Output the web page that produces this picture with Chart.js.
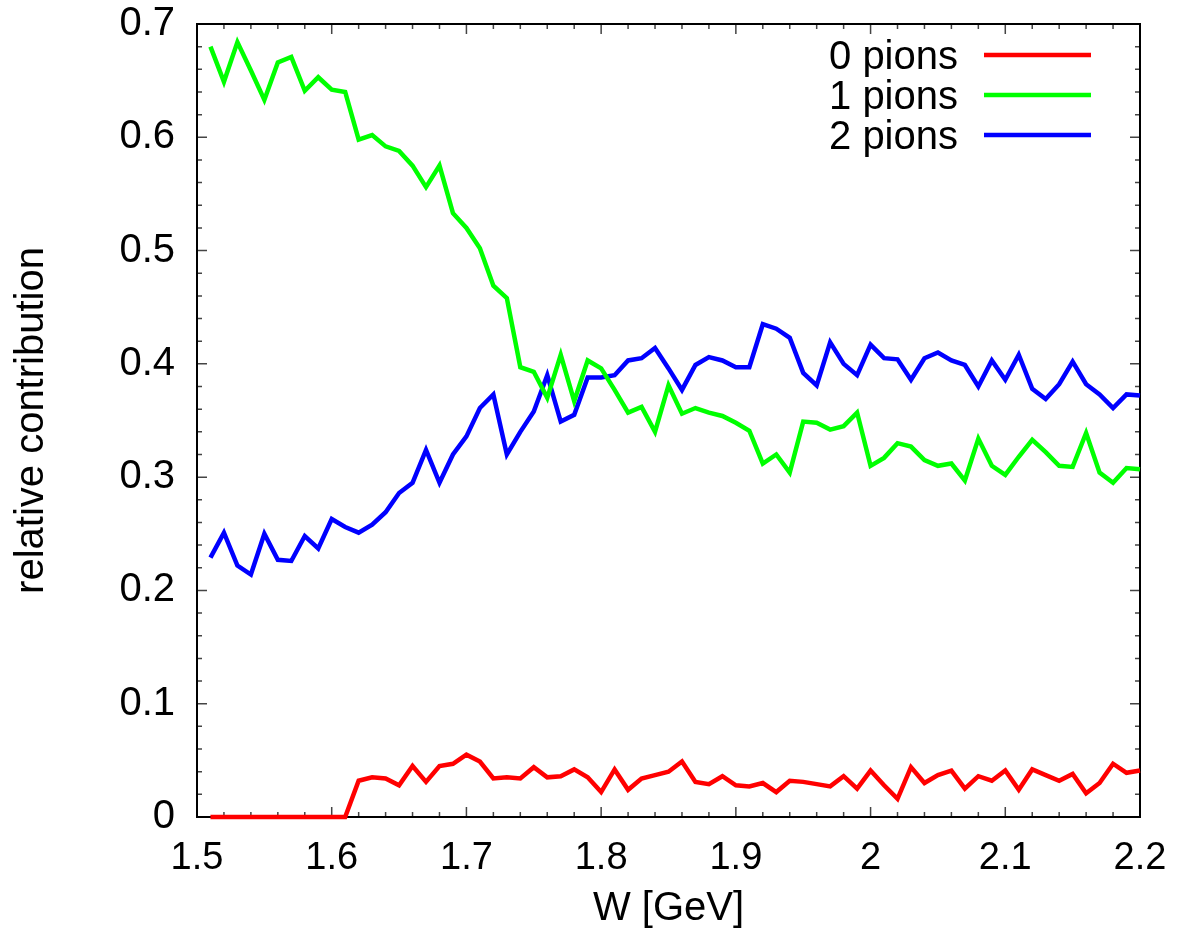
<!DOCTYPE html>
<html>
<head>
<meta charset="utf-8">
<title>relative contribution vs W</title>
<script src="https://cdn.jsdelivr.net/npm/chart.js@4.4.1/dist/chart.umd.min.js"></script>
<style>
  html, body { margin: 0; padding: 0; background: #fff; }
  #wrap { width: 1178px; height: 940px; }
</style>
</head>
<body>
<div id="wrap"><canvas id="pionChart" width="1178" height="940"></canvas></div>
<script>
// W values [GeV]
const wValues = [
  1.51, 1.52, 1.53, 1.54, 1.55, 1.56, 1.57, 1.58, 1.59, 1.60,
  1.61, 1.62, 1.63, 1.64, 1.65, 1.66, 1.67, 1.68, 1.69, 1.70,
  1.71, 1.72, 1.73, 1.74, 1.75, 1.76, 1.77, 1.78, 1.79, 1.80,
  1.81, 1.82, 1.83, 1.84, 1.85, 1.86, 1.87, 1.88, 1.89, 1.90,
  1.91, 1.92, 1.93, 1.94, 1.95, 1.96, 1.97, 1.98, 1.99, 2.00,
  2.01, 2.02, 2.03, 2.04, 2.05, 2.06, 2.07, 2.08, 2.09, 2.10,
  2.11, 2.12, 2.13, 2.14, 2.15, 2.16, 2.17, 2.18, 2.19, 2.20
];

const zeroPions = [
  0, 0, 0, 0, 0, 0, 0, 0, 0, 0,
  0, 0.032, 0.035, 0.034, 0.028, 0.045, 0.031, 0.045, 0.047, 0.055,
  0.049, 0.034, 0.035, 0.034, 0.044, 0.035, 0.036, 0.042, 0.035, 0.022,
  0.042, 0.024, 0.034, 0.037, 0.040, 0.049, 0.031, 0.029, 0.036, 0.028,
  0.027, 0.030, 0.022, 0.032, 0.031, 0.029, 0.027, 0.036, 0.025, 0.041,
  0.028, 0.016, 0.044, 0.030, 0.037, 0.041, 0.025, 0.036, 0.032, 0.041,
  0.024, 0.042, 0.037, 0.032, 0.038, 0.021, 0.030, 0.047, 0.039, 0.041
];

const onePions = [
  0.680, 0.649, 0.684, 0.659, 0.633, 0.666, 0.671, 0.641, 0.653, 0.642,
  0.640, 0.598, 0.602, 0.592, 0.588, 0.575, 0.556, 0.575, 0.533, 0.520,
  0.502, 0.469, 0.458, 0.397, 0.393, 0.370, 0.408, 0.367, 0.403, 0.396,
  0.377, 0.357, 0.362, 0.340, 0.381, 0.356, 0.361, 0.357, 0.354, 0.348,
  0.341, 0.312, 0.320, 0.304, 0.349, 0.348, 0.342, 0.345, 0.357, 0.310,
  0.317, 0.330, 0.327, 0.315, 0.310, 0.312, 0.297, 0.334, 0.310, 0.302,
  0.318, 0.333, 0.322, 0.310, 0.309, 0.339, 0.304, 0.295, 0.308, 0.307
];

const twoPions = [
  0.229, 0.251, 0.222, 0.214, 0.250, 0.227, 0.226, 0.248, 0.237, 0.263,
  0.256, 0.251, 0.258, 0.269, 0.286, 0.295, 0.324, 0.295, 0.320, 0.336,
  0.361, 0.373, 0.320, 0.340, 0.358, 0.390, 0.349, 0.355, 0.388, 0.388,
  0.390, 0.403, 0.405, 0.414, 0.396, 0.377, 0.399, 0.406, 0.403, 0.397,
  0.397, 0.435, 0.431, 0.423, 0.392, 0.381, 0.419, 0.400, 0.390, 0.417,
  0.405, 0.404, 0.386, 0.405, 0.410, 0.403, 0.399, 0.380, 0.403, 0.386,
  0.408, 0.378, 0.369, 0.382, 0.402, 0.382, 0.373, 0.361, 0.373, 0.372
];

const seriesLabels = ['0 pions', '1 pions', '2 pions'];
const seriesColors = ['#ff0000', '#00ff00', '#0000ff'];

const FONT = '"Liberation Sans", Arial, Helvetica, sans-serif';

function toPoints(ys) {
  return wValues.map((w, i) => ({ x: w, y: ys[i] }));
}

// frame + inward ticks on all four sides, like gnuplot
const frameTicks = {
  id: 'frameTicks',
  beforeDatasetsDraw(chart) {
    const { ctx, chartArea: a, scales: { x, y } } = chart;
    ctx.save();
    ctx.strokeStyle = '#444';
    ctx.lineWidth = 1.5;
    ctx.beginPath();
    for (let k = 0; k <= 35; k++) {
      const len = k % 5 === 0 ? 10 : 5;
      const px = x.getPixelForValue(1.5 + k * 0.02);
      ctx.moveTo(px, a.bottom); ctx.lineTo(px, a.bottom - len);
      ctx.moveTo(px, a.top); ctx.lineTo(px, a.top + len);
      const py = y.getPixelForValue(k * 0.02);
      ctx.moveTo(a.left, py); ctx.lineTo(a.left + len, py);
      ctx.moveTo(a.right, py); ctx.lineTo(a.right - len, py);
    }
    ctx.stroke();
    ctx.strokeStyle = '#000';
    ctx.lineWidth = 2;
    ctx.strokeRect(a.left, a.top, a.right - a.left, a.bottom - a.top);
    ctx.restore();
  }
};

// key in the top right: text, then a line sample
const keyBox = {
  id: 'keyBox',
  afterDraw(chart) {
    const { ctx } = chart;
    ctx.save();
    ctx.font = '40px ' + FONT;
    ctx.textAlign = 'right';
    ctx.textBaseline = 'middle';
    chart.data.datasets.forEach((ds, i) => {
      const yRow = 56 + i * 40;
      ctx.fillStyle = '#000';
      ctx.fillText(ds.label, 958, yRow + 2);
      ctx.strokeStyle = ds.borderColor;
      ctx.lineWidth = 4.5;
      ctx.beginPath();
      ctx.moveTo(984, yRow - 1);
      ctx.lineTo(1091, yRow - 1);
      ctx.stroke();
    });
    ctx.restore();
  }
};

const tickText = v => String(Math.round(v * 10) / 10);

const ctx = document.getElementById('pionChart').getContext('2d');
new Chart(ctx, {
  type: 'line',
  data: {
    datasets: [zeroPions, onePions, twoPions].map((ys, i) => ({
      label: seriesLabels[i],
      data: toPoints(ys),
      borderColor: seriesColors[i],
      backgroundColor: seriesColors[i],
      borderWidth: 4.5,
      pointRadius: 0,
      tension: 0,
      fill: false,
      clip: false
    }))
  },
  options: {
    responsive: false,
    animation: false,
    devicePixelRatio: 1,
    layout: { padding: { top: 24, right: 38, left: 0, bottom: 0 } },
    plugins: {
      legend: { display: false },
      tooltip: { enabled: false }
    },
    scales: {
      x: {
        type: 'linear',
        min: 1.5,
        max: 2.2,
        grid: { display: false, drawTicks: false },
        border: { display: false },
        ticks: {
          stepSize: 0.1,
          padding: 19,
          color: '#000',
          font: { family: FONT, size: 38 },
          callback: tickText
        },
        title: {
          display: true,
          text: 'W [GeV]',
          color: '#000',
          font: { family: FONT, size: 40 },
          padding: { top: 0, bottom: 7 }
        },
        afterFit(scale) {
          scale.height = 123;
          scale.paddingLeft = 0;
          scale.paddingRight = 0;
        }
      },
      y: {
        type: 'linear',
        min: 0,
        max: 0.7,
        grid: { display: false, drawTicks: false },
        border: { display: false },
        ticks: {
          stepSize: 0.1,
          padding: 22,
          color: '#000',
          font: { family: FONT, size: 40 },
          callback: tickText
        },
        title: {
          display: true,
          text: 'relative contribution',
          color: '#000',
          font: { family: FONT, size: 40 },
          padding: { top: 8, bottom: 0 }
        },
        afterFit(scale) {
          scale.width = 197;
          scale.paddingTop = 0;
          scale.paddingBottom = 0;
        }
      }
    }
  },
  plugins: [frameTicks, keyBox]
});
</script>
</body>
</html>
